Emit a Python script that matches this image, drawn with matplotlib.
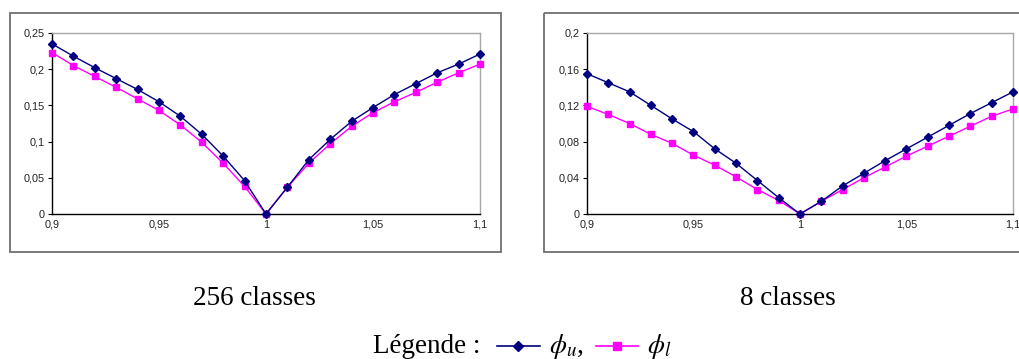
import matplotlib
matplotlib.use("Agg")
import matplotlib.pyplot as plt
from matplotlib.transforms import Affine2D
from matplotlib.lines import Line2D
from matplotlib.patches import Rectangle

plt.rcParams['mathtext.fontset'] = 'stix'

# Sampled ratios
x_vals = [0.90, 0.91, 0.92, 0.93, 0.94, 0.95, 0.96, 0.97, 0.98, 0.99, 1.00,
          1.01, 1.02, 1.03, 1.04, 1.05, 1.06, 1.07, 1.08, 1.09, 1.10]

# 256 classes
phi_u_256 = [0.235, 0.218, 0.202, 0.187, 0.172, 0.155, 0.135, 0.110, 0.080, 0.046, 0.0,
             0.037, 0.075, 0.103, 0.128, 0.147, 0.165, 0.180, 0.195, 0.207, 0.221]
phi_l_256 = [0.223, 0.205, 0.190, 0.175, 0.159, 0.143, 0.123, 0.099, 0.070, 0.038, 0.0,
             0.037, 0.070, 0.097, 0.121, 0.140, 0.155, 0.168, 0.182, 0.195, 0.207]

# 8 classes
phi_u_8 = [0.155, 0.145, 0.135, 0.120, 0.105, 0.091, 0.072, 0.056, 0.037, 0.018, 0.0,
           0.014, 0.031, 0.045, 0.059, 0.072, 0.085, 0.098, 0.111, 0.123, 0.135]
phi_l_8 = [0.119, 0.110, 0.100, 0.088, 0.078, 0.065, 0.054, 0.041, 0.027, 0.015, 0.0,
           0.014, 0.027, 0.040, 0.052, 0.064, 0.075, 0.086, 0.097, 0.108, 0.116]

x_ticks = [0.9, 0.95, 1.0, 1.05, 1.1]
x_tick_labels = ['0,9', '0,95', '1', '1,05', '1,1']
y_ticks_256 = [0, 0.05, 0.1, 0.15, 0.2, 0.25]
y_labels_256 = ['0', '0,05', '0,1', '0,15', '0,2', '0,25']
y_ticks_8 = [0, 0.04, 0.08, 0.12, 0.16, 0.2]
y_labels_8 = ['0', '0,04', '0,08', '0,12', '0,16', '0,2']

titles = ['256 classes', '8 classes']

W, H = 1020, 359
fig = plt.figure(figsize=(W / 100, H / 100), dpi=100)
px = Affine2D().scale(1 / W, -1 / H).translate(0, 1) + fig.transFigure

NAVY = '#000080'
MAGENTA = '#ff00ff'


def make_axes(x0, x1, y0, y1):
    return fig.add_axes([x0 / W, 1 - y1 / H, (x1 - x0) / W, (y1 - y0) / H])


def draw_panel(ax, yu, yl, yticks, ylabels):
    ax.plot(x_vals, yl, color=MAGENTA, lw=1.0, marker='s', ms=5,
            mec=MAGENTA, mfc=MAGENTA, clip_on=False, zorder=3)
    ax.plot(x_vals, yu, color=NAVY, lw=1.0, marker='D', ms=4,
            mec=NAVY, mfc=NAVY, clip_on=False, zorder=4)
    ax.set_xlim(0.9, 1.1)
    ax.set_ylim(yticks[0], yticks[-1])
    ax.set_xticks(x_ticks)
    ax.set_xticklabels(x_tick_labels)
    ax.set_yticks(yticks)
    ax.set_yticklabels(ylabels)
    for s in ('left', 'bottom'):
        ax.spines[s].set_color('black')
        ax.spines[s].set_linewidth(1.0)
    for s in ('top', 'right'):
        ax.spines[s].set_color('#a8a8a8')
        ax.spines[s].set_linewidth(1.0)
    ax.tick_params(axis='y', length=3, width=0.8, pad=2,
                   labelsize=7.8, labelcolor='#222222')
    ax.tick_params(axis='x', length=0, pad=4,
                   labelsize=7.8, labelcolor='#222222')
    for lab in ax.get_xticklabels() + ax.get_yticklabels():
        lab.set_fontfamily('Liberation Sans')


ax1 = make_axes(52, 480, 33, 214)
draw_panel(ax1, phi_u_256, phi_l_256, y_ticks_256, y_labels_256)
ax2 = make_axes(587, 1013, 33, 214)
draw_panel(ax2, phi_u_8, phi_l_8, y_ticks_8, y_labels_8)

# Chart frames
for (fx0, fx1) in ((10, 501), (544, 1030)):
    fig.add_artist(Rectangle((fx0, 13), fx1 - fx0, 239, transform=px,
                             fill=False, edgecolor='#707070', lw=1.3))

# Panel captions
serif = 'Liberation Serif'
fig.text(254, 305, titles[0], transform=px, ha='center', va='baseline',
         fontsize=19.5, family=serif)
fig.text(788, 305, titles[1], transform=px, ha='center', va='baseline',
         fontsize=19.5, family=serif)

# Legend line
fig.text(373, 353, 'Légende :', transform=px, ha='left', va='baseline',
         fontsize=19.5, family=serif)
fig.add_artist(Line2D([497, 540], [346, 346], transform=px, color=NAVY, lw=1.2))
fig.add_artist(Line2D([518.5], [346], transform=px, color=NAVY, marker='D', ms=5))
fig.text(549, 353, r'$\phi_u$,', transform=px, ha='left', va='baseline',
         fontsize=19.5, family=serif)
fig.add_artist(Line2D([596, 638], [346, 346], transform=px, color=MAGENTA, lw=1.2))
fig.add_artist(Line2D([617], [346], transform=px, color=MAGENTA, marker='s', ms=6))
fig.text(647, 353, r'$\phi_l$', transform=px, ha='left', va='baseline',
         fontsize=19.5, family=serif)

fig.savefig('out.png', dpi=100)
